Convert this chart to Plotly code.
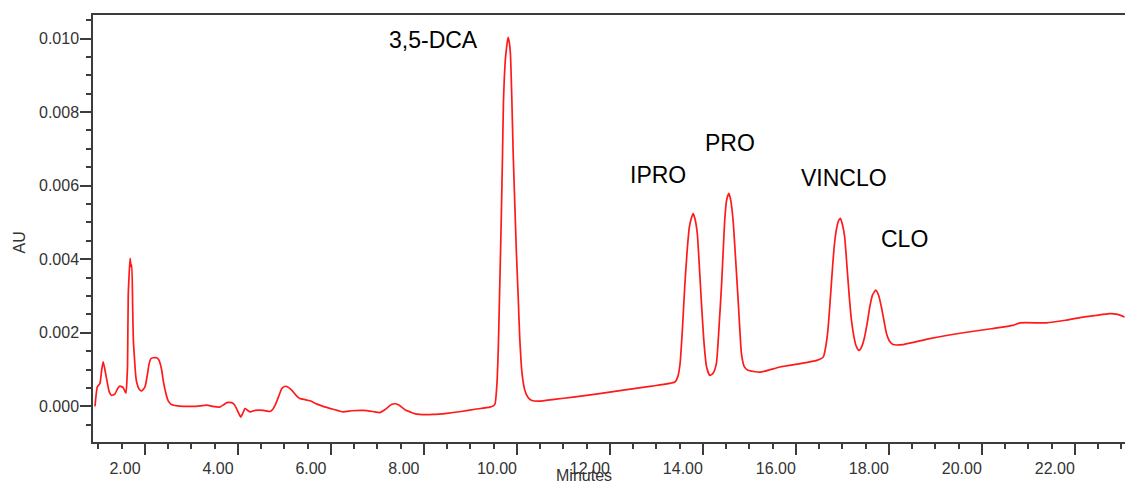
import plotly.graph_objects as go

# Retention time (minutes) and detector response (AU) of the chromatogram trace
minutes = [
    0.925, 0.975, 1.03, 1.07, 1.10, 1.13, 1.18, 1.23, 1.28, 1.35, 1.41, 1.46, 1.53, 1.59,
    1.615, 1.625, 1.64, 1.66, 1.68, 1.70, 1.715, 1.735, 1.75, 1.77, 1.80, 1.82, 1.87, 1.93,
    2.00, 2.05, 2.09, 2.13, 2.18, 2.25, 2.29, 2.33, 2.36, 2.40, 2.45, 2.50, 2.57, 2.70,
    2.82, 3.10, 3.33, 3.45, 3.61, 3.70, 3.76, 3.86, 3.92, 3.97, 4.02, 4.06, 4.10, 4.15,
    4.20, 4.26, 4.37, 4.55, 4.69, 4.75, 4.80, 4.87, 4.94, 5.00, 5.05, 5.15, 5.25, 5.33,
    5.45, 5.55, 5.70, 5.83, 6.05, 6.26, 6.45, 6.69, 6.90, 7.05, 7.15, 7.23, 7.30, 7.38,
    7.45, 7.52, 7.60, 7.70, 7.80, 7.91, 8.20, 8.49, 8.80, 9.10, 9.42, 9.50, 9.53, 9.57,
    9.60, 9.63, 9.66, 9.69, 9.71, 9.75, 9.78, 9.81, 9.835, 9.86, 9.89, 9.92, 9.96, 9.99,
    10.03, 10.06, 10.11, 10.17, 10.24, 10.32, 10.49, 10.80, 11.21, 11.70, 12.29, 12.90,
    13.40, 13.46, 13.51, 13.56, 13.61, 13.66, 13.71, 13.75, 13.79, 13.83, 13.88, 13.92,
    13.97, 14.02, 14.08, 14.15, 14.22, 14.29, 14.35, 14.40, 14.44, 14.47, 14.51, 14.56,
    14.60, 14.65, 14.70, 14.75, 14.79, 14.83, 14.89, 14.97, 15.23, 15.66, 16.09, 16.45,
    16.59, 16.64, 16.69, 16.74, 16.79, 16.83, 16.87, 16.92, 16.96, 17.00, 17.05, 17.10,
    17.15, 17.20, 17.25, 17.30, 17.36, 17.42, 17.48, 17.54, 17.59, 17.65, 17.72, 17.78,
    17.84, 17.90, 17.95, 18.02, 18.09, 18.31, 18.88, 19.60, 20.20, 20.67, 20.82, 21.39,
    21.80, 22.11, 22.45, 22.75, 22.92, 23.07,
]
absorbance = [
    0.0, 0.00053, 0.00062, 0.00100, 0.00121, 0.00105, 0.00071, 0.00040, 0.00030, 0.00033, 0.00048, 0.00055, 0.00051, 0.00036,
    0.00080, 0.00110, 0.00302, 0.00360, 0.00402, 0.00380, 0.00384, 0.00270, 0.00180, 0.00139, 0.00085, 0.00066, 0.00048, 0.00042,
    0.00053, 0.00085, 0.00116, 0.00130, 0.00132, 0.00132, 0.00128, 0.00115, 0.00098, 0.00065, 0.00035, 0.00015, 0.00005, 0.00001,
    0.0, 0.0, 0.00003, 0.0, -0.00002, 0.00005, 0.00010, 0.00010, 0.00005, -0.00006, -0.00020, -0.00029, -0.00020, -0.00006,
    -0.00010, -0.00015, -0.00011, -0.00011, -0.00014, -0.00008, 0.00003, 0.00025, 0.00048, 0.00054, 0.00054, 0.00045, 0.00030, 0.00021,
    0.00018, 0.00015, 0.00006, 0.0, -0.00008, -0.00015, -0.00012, -0.00011, -0.00014, -0.00017, -0.00010, -0.00002, 0.00005, 0.00007,
    0.00004, -0.00002, -0.00010, -0.00015, -0.00020, -0.00022, -0.00022, -0.00019, -0.00014, -0.00008, -0.00002, 0.00002, 0.00007, 0.00060,
    0.00160, 0.00320, 0.00488, 0.00680, 0.00824, 0.00940, 0.00978, 0.01003, 0.00990, 0.00960, 0.00840, 0.00688, 0.00530, 0.00415,
    0.00290, 0.00189, 0.00090, 0.00044, 0.00024, 0.00016, 0.00014, 0.00019, 0.00025, 0.00033, 0.00044, 0.00055,
    0.00066, 0.00080, 0.00116, 0.00210, 0.00325, 0.00420, 0.00488, 0.00510, 0.00524, 0.00510, 0.00470, 0.00390,
    0.00280, 0.00180, 0.00107, 0.00084, 0.00090, 0.00116, 0.00220, 0.00325, 0.00430, 0.00506, 0.00560, 0.00579,
    0.00560, 0.00506, 0.00410, 0.00307, 0.00220, 0.00143, 0.00108, 0.00098, 0.00093, 0.00107, 0.00116, 0.00125,
    0.00134, 0.00160, 0.00207, 0.00290, 0.00379, 0.00440, 0.00479, 0.00505, 0.00511, 0.00495, 0.00461, 0.00380,
    0.00297, 0.00230, 0.00189, 0.00163, 0.00152, 0.00163, 0.00189, 0.00230, 0.00270, 0.00303, 0.00316, 0.00302,
    0.00270, 0.00230, 0.00198, 0.00176, 0.00168, 0.00168, 0.00184, 0.00200, 0.00211, 0.00220, 0.00227, 0.00227,
    0.00234, 0.00241, 0.00247, 0.00252, 0.00250, 0.00243,
]

# Compound labels and where they sit (minutes, AU)
peak_names = ["3,5-DCA", "IPRO", "PRO", "VINCLO", "CLO"]
label_x = [8.215, 13.04, 14.58, 17.04, 18.33]
label_y = [0.00996, 0.00628, 0.00715, 0.00621, 0.00455]

FONT = "Arial, Liberation Sans, sans-serif"
AXIS = "#3c3c3c"
TEXT = "#333333"

fig = go.Figure()
fig.add_trace(go.Scatter(
    x=minutes, y=absorbance, mode="lines",
    line=dict(color="#ff1a1a", width=1.7, shape="spline", smoothing=0.5),
    hoverinfo="skip", showlegend=False,
))

for name, lx, ly in zip(peak_names, label_x, label_y):
    fig.add_annotation(x=lx, y=ly, text=name, showarrow=False,
                       xanchor="center", yanchor="middle",
                       font=dict(family=FONT, size=23, color="#000000"))

# Axis titles
fig.add_annotation(xref="paper", yref="paper", x=(584 - 93) / 1032, y=-(475 - 442) / 427,
                   text="Minutes", showarrow=False, xanchor="center", yanchor="middle",
                   font=dict(family=FONT, size=16, color=TEXT))
fig.add_annotation(xref="paper", yref="paper", x=-(93 - 19) / 1032, y=(442 - 242.5) / 427,
                   text="AU", textangle=-90, showarrow=False, xanchor="center", yanchor="middle",
                   font=dict(family=FONT, size=16, color=TEXT))

fig.update_layout(
    width=1125, height=483,
    margin=dict(l=93, r=0, t=15, b=41),
    paper_bgcolor="white", plot_bgcolor="white",
    font=dict(family=FONT, size=16, color=TEXT),
)
fig.update_xaxes(
    range=[0.882, 23.08],
    showgrid=False, zeroline=False,
    showline=True, linecolor=AXIS, linewidth=1.5, mirror=True,
    ticks="outside", ticklen=11, tickwidth=1.5, tickcolor=AXIS,
    tick0=0, dtick=2, tickformat=".2f",
    ticklabelshift=-20, ticklabelstandoff=0,
    minor=dict(ticks="outside", dtick=0.5, ticklen=5, tickwidth=1.5, tickcolor=AXIS),
    tickfont=dict(family=FONT, size=16, color=TEXT),
)
fig.update_yaxes(
    range=[-0.00097, 0.01064],
    showgrid=False, zeroline=False,
    showline=True, linecolor=AXIS, linewidth=1.5,
    ticks="outside", ticklen=11, tickwidth=1.5, tickcolor=AXIS,
    tick0=0, dtick=0.002, tickformat=".3f",
    ticklabelstandoff=-2,
    minor=dict(ticks="outside", dtick=0.0005, ticklen=5, tickwidth=1.5, tickcolor=AXIS),
    tickfont=dict(family=FONT, size=16, color=TEXT),
)

fig.write_html("out.html")
